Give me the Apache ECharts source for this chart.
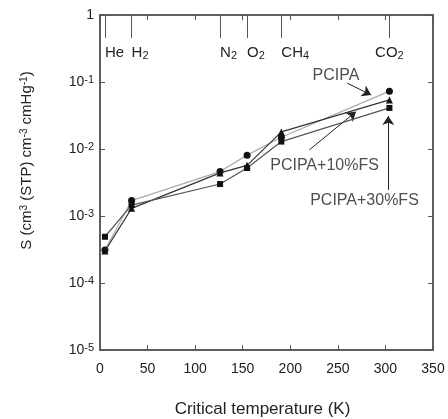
<!DOCTYPE html>
<html><head><meta charset="utf-8">
<script src="https://cdn.jsdelivr.net/npm/echarts@6/dist/echarts.min.js"></script>
<style>html,body{margin:0;padding:0;background:#fff}#c{width:448px;height:419px}</style>
</head><body><div id="c"></div>
<script>
// Critical temperatures (K) of the gases
const gases = ['He', 'H2', 'N2', 'O2', 'CH4', 'CO2'];
const gasTc = [5.2, 33.2, 126.2, 154.6, 190.6, 304.2];
// Solubility coefficients S (cm3(STP) cm-3 cmHg-1)
const sPCIPA   = [3.1e-4, 1.7e-3, 4.6e-3, 8.1e-3, 1.5e-2, 7.3e-2];
const sPCIPA10 = [3.0e-4, 1.3e-3, 4.4e-3, 5.7e-3, 1.8e-2, 5.4e-2];
const sPCIPA30 = [4.9e-4, 1.45e-3, 3.0e-3, 5.2e-3, 1.29e-2, 4.1e-2];
const seriesNames = ['PCIPA', 'PCIPA+10%FS', 'PCIPA+30%FS'];
// annotation label anchors and arrows, in data units [x, S]
const annLabel = [[248, 0.125], [236, 5.6e-3], [278, 1.67e-3]];
const annArrowFrom = [[260, 0.096], [220, 9.7e-3], [303, 2.45e-3]];
const annArrowTo = [[285, 0.064], [269, 0.036], [303, 0.031]];
const xTicks = [0, 50, 100, 150, 200, 250, 300, 350];

const chart = echarts.init(document.getElementById('c'));
const FONT = 'Liberation Sans, Arial, sans-serif';
const AX = '#555';
const TXT = '#222';
function pairs(ys){ return gasTc.map((t,i)=>[t, ys[i]]); }
function gasRich(name){
  const m = name.match(/^([A-Za-z]+?)(\d*)$/);
  return m[2] ? '{b|' + m[1] + '}{s|' + m[2] + '}' : '{b|' + m[1] + '}';
}
const lineColors = ['#aaaaaa', '#333333', '#555555'];
const symbols = ['circle', 'triangle', 'rect'];
const sets = [sPCIPA, sPCIPA10, sPCIPA30];

const series = sets.map((d,i)=>({
  name: seriesNames[i], type: 'line', xAxisIndex: 0, yAxisIndex: 0,
  data: pairs(d), symbol: symbols[i], symbolSize: i===2?6:7,
  lineStyle: {color: lineColors[i], width: 1.2},
  itemStyle: {color: '#111'}, z: 3 + i
}));
series.push({
  type: 'line', xAxisIndex: 0, yAxisIndex: 0, data: [], silent: true,
  itemStyle: {color: '#222'},
  markLine: {
    silent: true, symbol: ['none', 'arrow'], symbolSize: 9,
    itemStyle: {color: '#222'},
    lineStyle: {color: '#222', width: 1, type: 'solid'},
    label: {show: false},
    data: annArrowFrom.map((p,i)=>[{coord: p}, {coord: annArrowTo[i]}])
  }
});
series.push({
  type: 'scatter', xAxisIndex: 0, yAxisIndex: 0, symbolSize: 0, silent: true,
  data: annLabel.map((p,i)=>({value: p, name: seriesNames[i]})),
  label: {show: true, position: 'inside', formatter: '{b}', color: TXT,
          fontFamily: FONT, fontSize: 16}
});

chart.setOption({
  animation: false,
  backgroundColor: '#fff',
  grid: {left: 100, right: 15, top: 15, bottom: 69, containLabel: false, outerBoundsMode: 'none',
         show: true, borderColor: AX, borderWidth: 1.5, backgroundColor: 'transparent'},
  xAxis: [
    {type: 'value', min: 0, max: 350, interval: 50, position: 'bottom',
     name: 'Critical temperature (K)', nameLocation: 'middle', nameGap: 51,
     nameTextStyle: {fontFamily: FONT, fontSize: 17, color: TXT, padding: [0, 8, 0, 0]},
     axisLine: {show: true, onZero: false, lineStyle: {color: AX, width: 1.5}},
     axisTick: {show: true, inside: true, length: 5, lineStyle: {color: AX}},
     axisLabel: {fontFamily: FONT, fontSize: 14, color: TXT, margin: 12},
     splitLine: {show: false}},
    {type: 'value', min: 0, max: 350, position: 'top',
     axisLine: {show: true, onZero: false, lineStyle: {color: AX, width: 1.5}},
     axisTick: {show: true, inside: true, length: 23, customValues: gasTc, lineStyle: {color: AX}},
     axisLabel: {inside: true, margin: 29, customValues: gasTc, align: 'left', alignMaxLabel: 'center',
       formatter: v => { const i = gasTc.indexOf(v); return i>=0 ? gasRich(gases[i]) : ''; },
       rich: {b: {fontFamily: FONT, fontSize: 15, color: TXT, lineHeight: 17},
              s: {fontFamily: FONT, fontSize: 11, color: TXT, verticalAlign: 'bottom', lineHeight: 11, padding: [7,0,0,0]}}},
     splitLine: {show: false}},
    {type: 'value', min: 0, max: 350, position: 'top',
     axisLine: {show: false, onZero: false},
     axisTick: {show: true, inside: true, length: 5, customValues: xTicks, lineStyle: {color: AX}},
     axisLabel: {show: false}, splitLine: {show: false}}
  ],
  yAxis: [
    {type: 'log', logBase: 10, min: 1e-5, max: 1, position: 'left',
     name: 'S (cm{p|3} (STP) cm{p|-3} cmHg{p|-1})', nameLocation: 'middle', nameGap: 66,
     nameTextStyle: {fontFamily: FONT, fontSize: 15, color: TXT, padding: [0, 0, 0, 44],
       rich: {p: {fontFamily: FONT, fontSize: 10, color: TXT, verticalAlign: 'top', lineHeight: 10}}},
     axisLine: {show: true, onZero: false, lineStyle: {color: AX, width: 1.5}},
     axisTick: {show: true, inside: true, length: 5, lineStyle: {color: AX}},
     axisLabel: {fontFamily: FONT, fontSize: 14, color: TXT, margin: 6,
       formatter: v => { const e = Math.round(Math.log10(v)); return e === 0 ? '{n|1}' : '{n|10}{p|' + e + '}'; },
       rich: {n: {fontFamily: FONT, fontSize: 14, color: TXT, lineHeight: 16},
              p: {fontFamily: FONT, fontSize: 11, color: TXT, verticalAlign: 'top', lineHeight: 11, padding: [0,0,7,0]}}},
     splitLine: {show: false}},
    {type: 'log', logBase: 10, min: 1e-5, max: 1, position: 'right',
     axisLine: {show: true, onZero: false, lineStyle: {color: AX, width: 1.5}},
     axisTick: {show: true, inside: true, length: 5, lineStyle: {color: AX}},
     axisLabel: {show: true, color: 'rgba(0,0,0,0)', fontSize: 1}, splitLine: {show: false}}
  ],
  series: series
});
</script></body></html>
